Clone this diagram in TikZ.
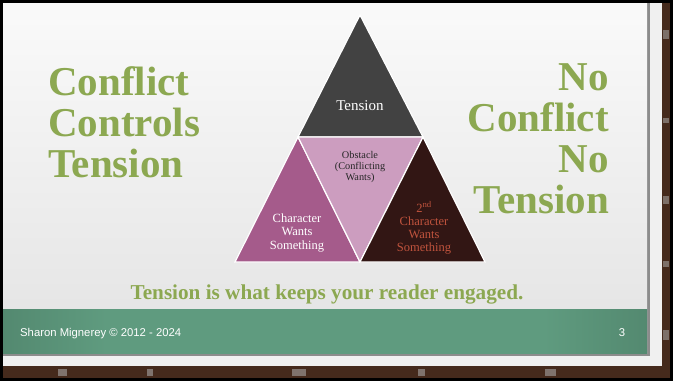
\documentclass[tikz,border=0pt]{standalone}
\usepackage{fontspec}
\setmainfont{Liberation Serif}
\setsansfont{Liberation Sans}
\usetikzlibrary{positioning}

\definecolor{titlegreen}{HTML}{8CA851}
\definecolor{tensiongray}{HTML}{424242}
\definecolor{charmauve}{HTML}{A55B8B}
\definecolor{obstpink}{HTML}{CC9DBF}
\definecolor{seconddark}{HTML}{321614}
\definecolor{secondred}{HTML}{C0533D}
\definecolor{footdark}{HTML}{2F5141}
\definecolor{footlight}{HTML}{5F9B7F}
\definecolor{brick}{HTML}{452A1C}
\definecolor{slideedge}{HTML}{8C8C8C}

\pgfdeclarehorizontalshading{footershade}{100bp}{
  color(0bp)=(footdark); color(33bp)=(footlight); color(67bp)=(footlight);
  color(100bp)=(footdark)}

\tikzset{
  bigtitle/.style={inner sep=0pt, text=titlegreen,
    font=\fontsize{41}{41}\selectfont\bfseries},
  tri/.style={draw=white, line width=1.2pt, line join=miter},
  trilabel/.style={inner sep=0pt, align=center,
    font=\fontsize{12.5}{13.2}\selectfont},
  footertext/.style={inner sep=0pt, text=white,
    font=\sffamily\fontsize{11.3}{12}\selectfont},
}

\begin{document}
\begin{tikzpicture}[x=1pt,y=-1pt]
  \useasboundingbox (0,0) rectangle (673,381);
  % outer frame and brick wall behind the slide
  \fill[black] (0,0) rectangle (673,381);
  \fill[brick] (3,3) rectangle (670,378);
  \foreach \y/\h in {30/9,118/5,196/8,261/6,330/10}
    \fill[brick!60!gray!80] (663,\y) rectangle (669,\y+\h);
  \foreach \x/\w in {58/9,147/6,292/14,418/7,545/11}
    \fill[brick!55!gray!80] (\x,369) rectangle (\x+\w,376);

  % slide paper with its shadow edge
  \fill[gray!12] (3,3) rectangle (662,366);
  \fill[slideedge] (3,3) rectangle (650,356);
  \shade[top color=gray!4, bottom color=gray!22] (3,3) rectangle (647,353);

  % footer band
  \shade[shading=footershade] (3,309) rectangle (647,353);

  % triangle of conflict
  \coordinate (apex) at (360,15);
  \coordinate (ml) at (298,137);
  \coordinate (mr) at (423,137);
  \coordinate (bl) at (235,262);
  \coordinate (bm) at (360,262);
  \coordinate (br) at (485,262);

  \filldraw[tri, fill=tensiongray] (apex) -- (mr) -- (ml) -- cycle;
  \filldraw[tri, fill=charmauve] (ml) -- (bm) -- (bl) -- cycle;
  \filldraw[tri, fill=obstpink] (ml) -- (mr) -- (bm) -- cycle;
  \filldraw[tri, fill=seconddark] (mr) -- (br) -- (bm) -- cycle;

  \node[trilabel, text=white, font=\fontsize{15}{15}\selectfont]
    (tension) at (360,106) {Tension};
  \node[trilabel, text=black!85, font=\fontsize{10.3}{11}\selectfont]
    (obstacle) at (360,167) {Obstacle\\(Conflicting\\Wants)};
  \node[trilabel, text=white] (char) at (297,233)
    {Character\\Wants\\Something};
  \node[trilabel, text=secondred] (second) at (424,228)
    {2\textsuperscript{nd}\\Character\\Wants\\Something};

  % side titles
  \node[bigtitle, align=left, anchor=west] (left) at (48,122)
    {Conflict\\Controls\\Tension};
  \node[bigtitle, align=right, anchor=east] (right) at (609,139)
    {No\\Conflict\\No\\Tension};

  \node[inner sep=0pt, text=titlegreen, font=\fontsize{21.2}{21}\selectfont\bfseries,
    anchor=base] (tagline) at (327,299)
    {Tension is what keeps your reader engaged.};

  % footer text
  \node[footertext, anchor=base west] (author) at (20,336)
    {Sharon Mignerey © 2012 - 2024};
  \node[footertext, anchor=base] (page) at (622,336) {3};
\end{tikzpicture}
\end{document}
